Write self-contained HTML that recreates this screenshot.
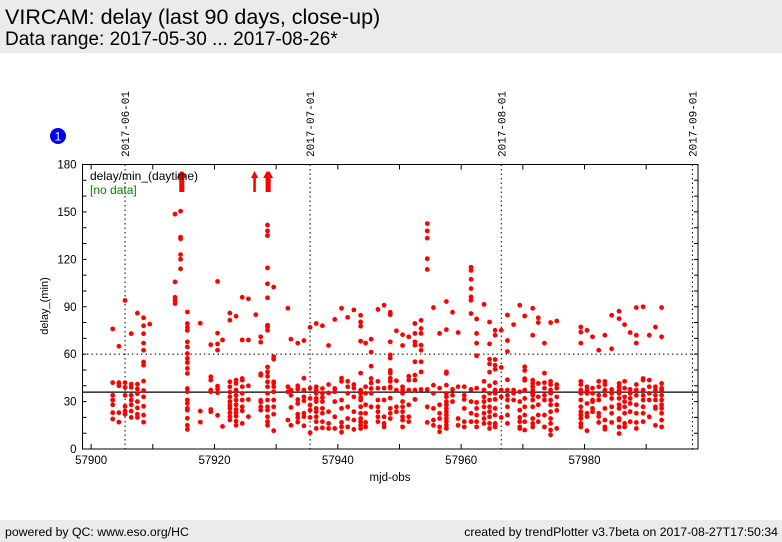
<!DOCTYPE html>
<html><head><meta charset="utf-8"><style>
body{margin:0;width:782px;height:542px;background:#fff;font-family:"Liberation Sans",sans-serif;overflow:hidden;position:relative}
#hdr{position:absolute;left:0;top:0;width:782px;height:53px;background:#ebebeb}
#t1{position:absolute;left:5px;top:5px;font-size:21.5px;color:#000}
#t2{position:absolute;left:5px;top:29px;font-size:19px;color:#000}
#ftr{position:absolute;left:0;top:520px;width:782px;height:22px;background:#ebebeb;font-size:12.3px}
#fl{position:absolute;left:5px;top:5px}
#fr{position:absolute;right:4px;top:5px}
svg{position:absolute;left:0;top:0}
</style></head><body>
<div id="hdr">
<div id="t1">VIRCAM: delay (last 90 days, close-up)</div>
<div id="t2">Data range: 2017-05-30 ... 2017-08-26*</div>
</div>
<div id="ftr">
<span id="fl">powered by QC: www.eso.org/HC</span>
<span id="fr">created by trendPlotter v3.7beta on 2017-08-27T17:50:34</span>
</div>
<svg id="chart" width="782" height="542"></svg>
<script>
const dateLabels=["2017-06-01","2017-07-01","2017-08-01","2017-09-01"];
const dateMjd=[57905.5,57935.5,57966.5,57997.5];
const xTicks=[57900,57920,57940,57960,57980];
const yTicks=[0,30,60,90,120,150,180];
const refSolid=36;
const refDotted=60;
const colMjd=[57903.5,57904.5,57905.5,57906.5,57907.5,57908.5,57909.5,57913.6,57914.5,57915.6,57917.7,57919.4,57920.5,57921.3,57922.5,57923.5,57924.5,57925.5,57926.7,57927.5,57928.6,57929.6,
57931.9,57932.4,57933.5,57934.5,57935.5,57936.5,57937.5,57938.5,57939.5,57940.6,57941.6,57942.6,57943.7,57944.5,57945.4,57946.5,57947.5,57948.5,57949.5,57950.5,57951.5,57952.5,57953.5,57954.5,57955.5,57956.5,57957.6,57958.6,57959.5,57960.5,57961.6,57962.5,57963.7,57964.6,
57965.5,57966.5,57967.5,57968.5,57969.5,57970.3,57971.6,57972.5,57973.5,57974.5,57975.5,57979.4,57980.4,57981.3,57982.3,57983.3,57984.4,57985.6,57986.5,57987.4,57988.4,57989.5,57990.5,57991.5,57992.5];
const colVals=[
[76,42,34,31,28,23,19],[65,42,40,23,17],[94,42,39,34,27,24,22],[73,41,39,34,31,28,24,20],[86,41,38,35,30,26,22,20],
[83,78,73,67,62.5,55,53,43,37,33,27,21.5,17],[79],[148.6,105.7,96,94,92],[150.5,134,133,123,120,114],
[86.7,79.4,77,75,67.8,64.6,60.4,57.3,54.7,51,47.8,38.3,36.2,31,28.8,25.7,24.6,19.4,15,12.4],[79.6,24,17],
[66,45.7,43.6,37.3,36.2,25,23.6],[106,73.3,66.5,62.5,39.8,38,35.6,21.3],[69,14.3],
[86,81.5,42.5,39.4,36,33,30,27.6,25.7,23,20.5,18.4],[84,43.6,41.5,37.3,34,31,28,25,23,20.8,17.6,15],
[96,69,44.6,43.6,39.4,35.2,31,26.7,24.2,16.2],[95,69,40,31.3,20.5],[85],[71,67.6,47.6,46.6,30.8,29.8,26.7,24.6],
[141.7,138,135,114.6,104.5,95.7,78.3,77.2,75.1,51.9,48.8,46,42.5,39.4,35.2,31,26.7,24.6,20.4,17.3,15],
[102.5,58.4,56.8,42.5,41.5,39.4,36.2,31,26.7,22,11.6],
[89,39.4,36.2,18.3],[69.5,37.3,34,26.3,15],[67,40,38,31.3,28.8,22,19.8,17],[68.6,44.8,37.3,33,30.6,22.6,20.5,14.7],
[77,38.5,32,27.8,24.6,20,10.3],[79.4,39.4,37.3,35.2,32,30,25.7,23.6,20.4,17.3,13],[78,38.3,35.2,32.6,30,25.7,22.6,17.3,13.4],
[65.5,40.8,35.5,23.6,16.2,13],[82,38.3,36.2,30,20.4,13],[89,44.8,42.8,31,25.7,16.8,14,10.6],[83.3,42.8,39.4,35.2,26.7,19.3,14],
[88,40.8,38.5,33,23.6,18.3,12.4],[84.6,80.4,77.7,68.2,48,37.3,35.2,32.6,31,26.7,22.6,19.3,17.2,15,13],[67,39.4,35.2,28,22.6,16.8,14],
[69.5,61.3,52.4,44.6,41.8,38.3,35.2,26.7],[88.3,42.8,38.5,31,26.7,23.6,20.4,17.3],[91,38.5,31,20.4,16.2,14],
[86.5,85,67.8,59.5,57.5,49.7,48,44.8,42.8,39.4,38.5,32.2,25.7,22.6,19.3],[74.8,43.2,37.3,26.7,23.6],
[72.3,65.5,39.4,37.3,35.2,30,26.7,23.6,20.4,18.3,14],[71,46,43.6,37.3,28,20.4,17.3],[79.4,73.1,67.8,65.7,55.2,46.8,43.6,37.3,31.4],
[81.4,76.2,73.1,65.7,62.5,55.2,48.8,37.7],[142.6,138,133.4,120.4,113.6,37.7,26.7,16.8],[89.5,40.4,35.2,25.7,18.3,15],
[73.1,38.5,28,22.6,19.3,14,10.9],[93.3,75.5,48.8,47.8,40.4,35.2,33,30,28,25.7,23.6,21.5,19.3,17.3,15,13],[86.5,37.7,34,30],
[73.7,39.4,19.3,15],[39.4,34,31.4,25.7,17.3,14],[115,113,107.4,101.5,96.2,94.1,85.7,37.7,30,22.6,17.3],
[82.3,73.1,67,59,38.5,29.5,25.7,21.5,17.3,14],[91.5,42.8,37.3,33,30,26.7,22.6,19.3,16.2],
[80.3,66.5,56.8,53.8,48.6,40,35.2,31,26.7,23.6,20.4,16.2,13],
[75.1,72,56.6,53,50.4,42,37.3,35.2,31.4,25.7,21.5,16.2,14],[75.1,51.6,37.3,33,20],[84.8,68.6,61.7,43.8,37.3,34,31,26.7,21.5,16.2],
[78.7,37.3,35.2,31],[91,36.2,30,24.6,20,17.3,14,13],[84.2,52,49.7,44.5,43.5,37.3,32,26.7,21.5,17.3,12],
[89,72,43.6,41.5,39.4,37.3,35.2,34,31,26.7,19.3,16.2,14],[83,80,41.5,33,28,21.5,17.3],[67,48,42,38.5,34,31,21.5,14],
[80,42.8,40.8,37.3,35.2,31,28,23.6,19.3,16.2,12,9],[81,40.8,38.5,33,28,24.4,13],
[77.2,74,67,42.8,40.8,37.3,35.2,31,26.7,23.6,21.5,19.3,16.2,14],[75.1,39.4,37.3,35.2,28.8,22.6,20.5,11.6],
[71,38.5,35.2,31,30,25.7,23.6],[62.5,42.8,39.4,34,31,22.6,20.5,16.8],[72,42.8,40.8,37.3,34,25.7,18.3,14,12.5],
[84.6,63.4,37.7,35.2,32,26.7,22.6,16.8],[87.2,82.5,41.5,39.4,37.3,35.2,32,28,25.7,19.3,18.3,14,9.8],
[78.7,42.8,38.5,33,30,26.7,22.6,16.2,14],[73.7,37.7,35.2,32,28.8,23.6,17.3],[89.5,72,67,40.8,37.3,34,28,22.6,16.8,13],
[90,44.6,43.6,37.3,34,31,26.7,22.6,17.3],[72,43.6,39.4,35.2,31,20.4],[77.2,39.4,37.3,34,31,26.7,25.7,15],
[89.5,71,41.5,38.5,37.3,34,31,28,25.7,22.6,18.3,14]];
const offMjd=[57914.5,57914.7,57914.9,57926.5,57928.5,57928.7,57928.9];
const offVals=[210,230,250,200,220,240,260];

const NS="http://www.w3.org/2000/svg";
const svg=document.getElementById('chart');
const L=82.5,R=698,T=164.5,B=449;
const X0=57898.6,X1=57998.4,Y0=0,Y1=180;
function xs(m){return L+(m-X0)/(X1-X0)*(R-L);}
function ys(v){return B-(v-Y0)/(Y1-Y0)*(B-T);}
function mk(tag,attrs,parent){const e=document.createElementNS(NS,tag);for(const k in attrs)e.setAttribute(k,attrs[k]);(parent||svg).appendChild(e);return e;}

let fr=mk('rect',{x:L,y:T,width:R-L,height:B-T,fill:'none',stroke:'#000','stroke-width':1});


for(let v=0;v<=180;v+=10){const y=ys(v);
 let t=mk('path',{d:`M${L},${y}h4M${R},${y}h-4`,stroke:'#000','stroke-width':1});
 
 }
yTicks.forEach(v=>{let tx=mk('text',{x:L-6,y:ys(v)+4,'text-anchor':'end','font-size':11.5,fill:'#000','font-family':'Liberation Sans, sans-serif'});tx.textContent=v;
 
 });
for(let m=57900;m<=57990;m+=10){const x=xs(m);
 let t=mk('path',{d:`M${x},${B}v-5M${x},${T}v5`,stroke:'#000','stroke-width':1});
 
 }
xTicks.forEach(m=>{let tx=mk('text',{x:xs(m),y:B+15,'text-anchor':'middle','font-size':11.5,fill:'#000','font-family':'Liberation Sans, sans-serif'});tx.textContent=m;
 
 });
dateMjd.forEach((m,i)=>{const x=xs(m);
 let ln=mk('line',{x1:x,x2:x,y1:T,y2:B,stroke:'#000','stroke-width':1,'stroke-dasharray':'1.5,3'});
 
 
 let tx=mk('text',{x:0,y:0,transform:`translate(${x+4},157) rotate(-90)`,'font-size':11,fill:'#000','font-family':'Liberation Mono, monospace'});tx.textContent=dateLabels[i];
 
 });
let rd=mk('line',{x1:L,x2:R,y1:ys(refDotted),y2:ys(refDotted),stroke:'#000','stroke-width':1,'stroke-dasharray':'1.5,3'});


let rs=mk('line',{x1:L,x2:R,y1:ys(refSolid),y2:ys(refSolid),stroke:'#000','stroke-width':1.2});


colMjd.forEach((m,i)=>{colVals[i].forEach(v=>{
 let c=mk('circle',{cx:xs(m),cy:ys(v),r:2.4,fill:'#ff0000'});
 
 });});
offMjd.forEach((m,i)=>{if(offVals[i]<=Y1)return;const x=xs(m);
 let a=mk('path',{d:`M${x-1.3},192V178H${x-3.7}L${x},171L${x+3.7},178H${x+1.3}V192Z`,fill:'#ff0000'});
 
 });
let lg=mk('text',{x:90,y:180,'font-size':12,fill:'#000','font-family':'Liberation Sans, sans-serif'});lg.textContent='delay/min_(daytime)';


let nd=mk('text',{x:90,y:194,'font-size':12,fill:'#008000','font-family':'Liberation Sans, sans-serif'});nd.textContent='[no data]';


let yt=mk('text',{x:0,y:0,transform:'translate(48,306) rotate(-90)','text-anchor':'middle','font-size':11,fill:'#000','font-family':'Liberation Sans, sans-serif'});yt.textContent='delay_(min)';


let xt=mk('text',{x:390,y:481,'text-anchor':'middle','font-size':11.5,fill:'#000','font-family':'Liberation Sans, sans-serif'});xt.textContent='mjd-obs';


let bc=mk('circle',{cx:58,cy:136,r:8,fill:'#0000ee'});


let bt=mk('text',{x:58,y:140.5,'text-anchor':'middle','font-size':12,fill:'#fff','font-family':'Liberation Sans, sans-serif'});bt.textContent='1';


</script>
</body></html>
